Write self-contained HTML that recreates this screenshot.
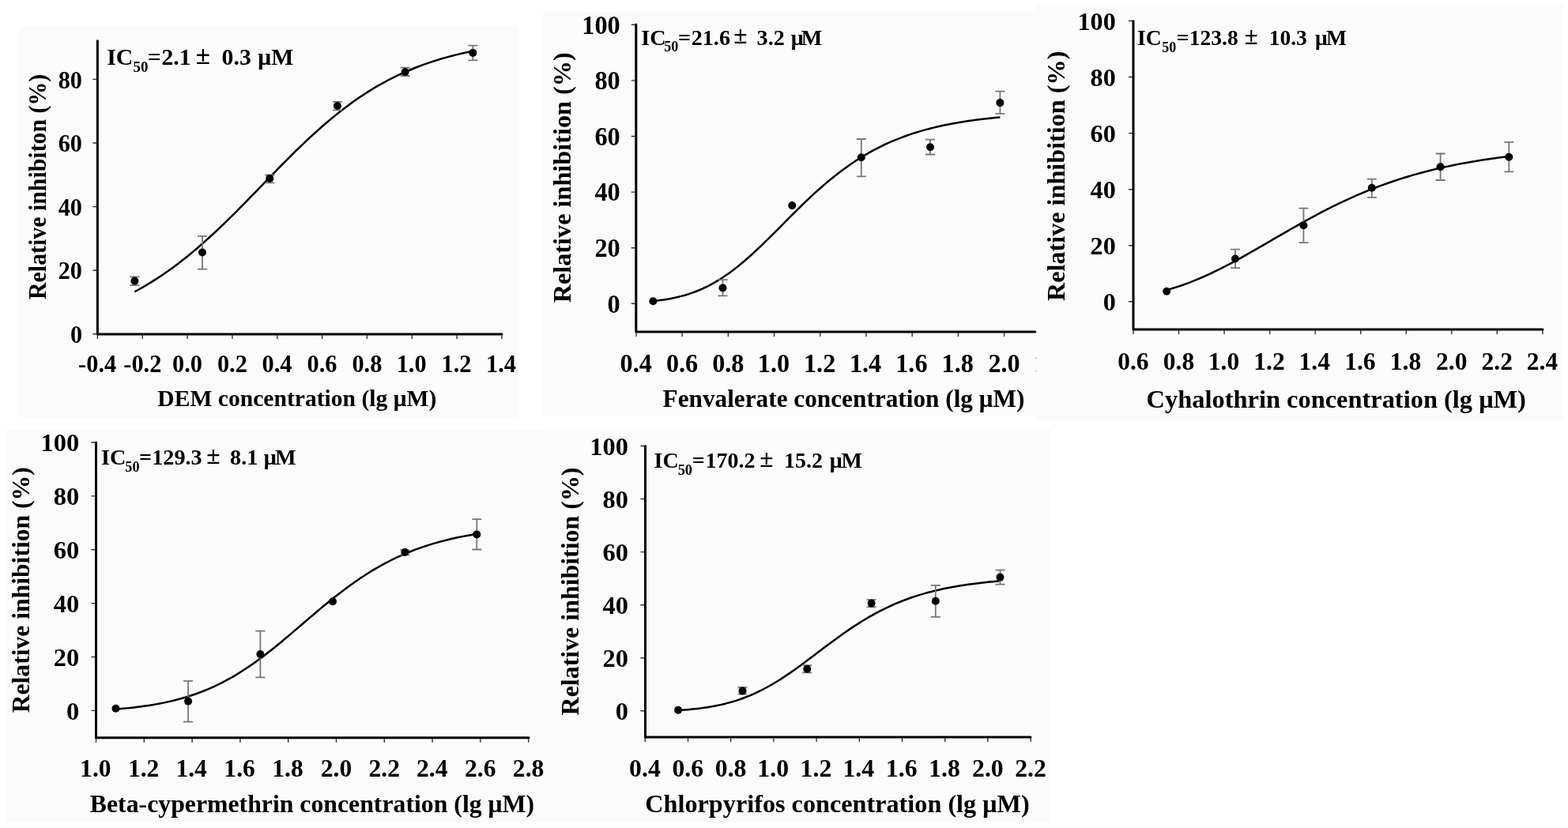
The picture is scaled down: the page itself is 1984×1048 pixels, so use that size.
<!DOCTYPE html>
<html><head><meta charset="utf-8"><style>
html,body{margin:0;padding:0;background:#fff;overflow:hidden;}
svg{display:block;}
text{font-family:"Liberation Serif","Times New Roman",serif;font-weight:bold;fill:#000;}
</style></head><body>
<svg width="1984" height="1048" viewBox="0 0 1984 1048">
<rect width="1984" height="1048" fill="#fff"/>
<rect x="24" y="34" width="632" height="494" fill="#fbfbfb"/>
<rect x="687" y="15" width="624" height="512" fill="#fbfbfb"/>
<rect x="1310" y="6" width="668" height="525" fill="#fbfbfb"/>
<rect x="8" y="545" width="692" height="495" fill="#fbfbfb"/>
<rect x="690" y="543" width="639" height="498" fill="#fbfbfb"/>
<path d="M117.4,422.8H123.4M117.4,342.2H123.4M117.4,261.6H123.4M117.4,181H123.4M117.4,100.4H123.4M123.4,423V429M180.24,423V429M237.08,423V429M293.92,423V429M350.76,423V429M407.6,423V429M464.44,423V429M521.28,423V429M578.12,423V429M634.96,423V429" stroke="#333" stroke-width="1.4" fill="none"/>
<path d="M123.4,51.8V423H635" stroke="#000" stroke-width="3" fill="none" stroke-linecap="round" stroke-linejoin="round"/>
<text transform="translate(88.88,434) scale(0.9700,1)" font-size="31.2">0</text>
<text transform="translate(73.75,353.4) scale(0.9700,1)" font-size="31.2">20</text>
<text transform="translate(73.75,272.8) scale(0.9700,1)" font-size="31.2">40</text>
<text transform="translate(73.75,192.2) scale(0.9700,1)" font-size="31.2">60</text>
<text transform="translate(73.75,111.6) scale(0.9700,1)" font-size="31.2">80</text>
<text transform="translate(99.1,471) scale(0.9800,1)" font-size="31">-0.4</text>
<text transform="translate(156.32,471) scale(0.9800,1)" font-size="31">-0.2</text>
<text transform="translate(218.09,471) scale(0.9800,1)" font-size="31">0.0</text>
<text transform="translate(274.93,471) scale(0.9800,1)" font-size="31">0.2</text>
<text transform="translate(331.47,471) scale(0.9800,1)" font-size="31">0.4</text>
<text transform="translate(388.46,471) scale(0.9800,1)" font-size="31">0.6</text>
<text transform="translate(445.38,471) scale(0.9800,1)" font-size="31">0.8</text>
<text transform="translate(501.68,471) scale(0.9800,1)" font-size="31">1.0</text>
<text transform="translate(558.52,471) scale(0.9800,1)" font-size="31">1.2</text>
<text transform="translate(615.06,471) scale(0.9800,1)" font-size="31">1.4</text>
<text transform="translate(199.36,514.3) scale(0.9705,1)" font-size="30.5">DEM concentration (lg μM)</text>
<text transform="translate(57.6,378.95) rotate(-90) scale(0.9635,1)" font-size="31">Relative inhibiton (%)</text>
<text transform="translate(135.26,82.1) scale(1.0000,1)" font-size="29.8"><tspan x="0" y="0">IC</tspan><tspan x="33.28" y="9.2" font-size="19">50</tspan><tspan x="51.45" y="0">=</tspan><tspan x="69.15" y="0">2.1 </tspan><tspan x="112.51" y="-1.2" font-size="33.38">± </tspan><tspan x="145.35" y="0">0.3 </tspan><tspan x="191.05" y="0">μ</tspan><tspan x="207.9" y="0">M</tspan></text>
<path d="M170.2,369.35 L174.52,367.01 L178.84,364.59 L183.15,362.1 L187.47,359.53 L191.79,356.89 L196.11,354.17 L200.43,351.37 L204.75,348.5 L209.06,345.54 L213.38,342.51 L217.7,339.4 L222.02,336.22 L226.34,332.95 L230.65,329.61 L234.97,326.19 L239.29,322.7 L243.61,319.14 L247.93,315.5 L252.25,311.79 L256.56,308.01 L260.88,304.17 L265.2,300.26 L269.52,296.29 L273.84,292.26 L278.15,288.17 L282.47,284.03 L286.79,279.84 L291.11,275.61 L295.43,271.33 L299.75,267.02 L304.06,262.67 L308.38,258.29 L312.7,253.89 L317.02,249.47 L321.34,245.03 L325.65,240.57 L329.97,236.12 L334.29,231.66 L338.61,227.2 L342.93,222.75 L347.25,218.32 L351.56,213.9 L355.88,209.5 L360.2,205.13 L364.52,200.79 L368.84,196.49 L373.15,192.23 L377.47,188.01 L381.79,183.84 L386.11,179.72 L390.43,175.66 L394.75,171.66 L399.06,167.71 L403.38,163.83 L407.7,160.02 L412.02,156.28 L416.34,152.61 L420.65,149.02 L424.97,145.49 L429.29,142.05 L433.61,138.69 L437.93,135.4 L442.25,132.19 L446.56,129.07 L450.88,126.02 L455.2,123.06 L459.52,120.17 L463.84,117.37 L468.15,114.65 L472.47,112.01 L476.79,109.45 L481.11,106.97 L485.43,104.56 L489.75,102.23 L494.06,99.98 L498.38,97.8 L502.7,95.7 L507.02,93.67 L511.34,91.7 L515.65,89.81 L519.97,87.98 L524.29,86.22 L528.61,84.53 L532.93,82.9 L537.25,81.32 L541.56,79.81 L545.88,78.35 L550.2,76.95 L554.52,75.61 L558.84,74.32 L563.15,73.08 L567.47,71.88 L571.79,70.74 L576.11,69.64 L580.43,68.59 L584.75,67.58 L589.06,66.61 L593.38,65.68 L597.7,64.79" stroke="#000" stroke-width="2.5" fill="none"/>
<path d="M170.4,350.4V361.1M164.4,350.4H176.4M164.4,361.1H176.4M256,298.9V340.7M250,298.9H262M250,340.7H262M341.3,221.5V231.4M335.3,221.5H347.3M335.3,231.4H347.3M426.9,128.9V139.3M420.9,128.9H432.9M420.9,139.3H432.9M512.7,85.6V96M506.7,85.6H518.7M506.7,96H518.7M598.3,57.6V76.3M592.3,57.6H604.3M592.3,76.3H604.3" stroke="#777" stroke-width="1.8" fill="none"/>
<circle cx="170.4" cy="355.6" r="5.0" fill="#000"/>
<circle cx="256" cy="319.5" r="5.0" fill="#000"/>
<circle cx="341.3" cy="225.9" r="5.0" fill="#000"/>
<circle cx="426.9" cy="134" r="5.0" fill="#000"/>
<circle cx="512.7" cy="91" r="5.0" fill="#000"/>
<circle cx="598.3" cy="66.9" r="5.0" fill="#000"/>
<path d="M798.8,384.3H804.8M798.8,313.7H804.8M798.8,243.1H804.8M798.8,172.5H804.8M798.8,101.9H804.8M798.8,31.3H804.8M805,420V426M863.2,420V426M921.4,420V426M979.6,420V426M1037.8,420V426M1096,420V426M1154.2,420V426M1212.4,420V426M1270.6,420V426" stroke="#333" stroke-width="1.4" fill="none"/>
<path d="M804.8,31V420H1309.8" stroke="#000" stroke-width="3" fill="none" stroke-linecap="round" stroke-linejoin="round"/>
<text transform="translate(768.62,395.5) scale(0.9800,1)" font-size="33">0</text>
<text transform="translate(752.45,324.9) scale(0.9800,1)" font-size="33">20</text>
<text transform="translate(752.45,254.3) scale(0.9800,1)" font-size="33">40</text>
<text transform="translate(752.45,183.7) scale(0.9800,1)" font-size="33">60</text>
<text transform="translate(752.45,113.1) scale(0.9800,1)" font-size="33">80</text>
<text transform="translate(736.28,42.5) scale(0.9800,1)" font-size="33">100</text>
<text transform="translate(784.53,471) scale(0.9400,1)" font-size="34.3">0.4</text>
<text transform="translate(842.89,471) scale(0.9400,1)" font-size="34.3">0.6</text>
<text transform="translate(901.17,471) scale(0.9400,1)" font-size="34.3">0.8</text>
<text transform="translate(958.8,471) scale(0.9400,1)" font-size="34.3">1.0</text>
<text transform="translate(1017,471) scale(0.9400,1)" font-size="34.3">1.2</text>
<text transform="translate(1074.88,471) scale(0.9400,1)" font-size="34.3">1.4</text>
<text transform="translate(1133.24,471) scale(0.9400,1)" font-size="34.3">1.6</text>
<text transform="translate(1191.52,471) scale(0.9400,1)" font-size="34.3">1.8</text>
<text transform="translate(1250.45,471) scale(0.9400,1)" font-size="34.3">2.0</text>
<text transform="translate(838.53,514.6) scale(0.9777,1)" font-size="32">Fenvalerate concentration (lg μM)</text>
<text transform="translate(722.1,383.28) rotate(-90) scale(0.9922,1)" font-size="32.5">Relative inhibition (%)</text>
<text transform="translate(811.31,56.6) scale(1.0000,1)" font-size="28.2"><tspan x="0" y="0">IC</tspan><tspan x="28.96" y="8.6" font-size="18.2">50</tspan><tspan x="46.68" y="0">=</tspan><tspan x="63.36" y="0">21.6 </tspan><tspan x="117.02" y="-1.2" font-size="31.58">± </tspan><tspan x="146.3" y="0">3.2 </tspan><tspan x="189.41" y="0">μ</tspan><tspan x="202.56" y="0">M</tspan></text>
<path d="M826.4,381.09 L830.83,380.6 L835.27,380.04 L839.7,379.41 L844.14,378.7 L848.57,377.9 L853.01,377.01 L857.44,376.01 L861.87,374.9 L866.31,373.68 L870.74,372.33 L875.18,370.85 L879.61,369.23 L884.05,367.47 L888.48,365.57 L892.92,363.5 L897.35,361.29 L901.78,358.91 L906.22,356.38 L910.65,353.68 L915.09,350.82 L919.52,347.81 L923.96,344.65 L928.39,341.33 L932.82,337.87 L937.26,334.27 L941.69,330.54 L946.13,326.69 L950.56,322.73 L955,318.67 L959.43,314.51 L963.86,310.28 L968.3,305.97 L972.73,301.61 L977.17,297.21 L981.6,292.77 L986.04,288.31 L990.47,283.85 L994.91,279.38 L999.34,274.93 L1003.77,270.5 L1008.21,266.11 L1012.64,261.76 L1017.08,257.46 L1021.51,253.22 L1025.95,249.05 L1030.38,244.95 L1034.81,240.93 L1039.25,236.99 L1043.68,233.15 L1048.12,229.4 L1052.55,225.75 L1056.99,222.19 L1061.42,218.74 L1065.85,215.39 L1070.29,212.15 L1074.72,209.01 L1079.16,205.97 L1083.59,203.04 L1088.03,200.22 L1092.46,197.49 L1096.89,194.87 L1101.33,192.35 L1105.76,189.93 L1110.2,187.61 L1114.63,185.38 L1119.07,183.24 L1123.5,181.19 L1127.94,179.23 L1132.37,177.36 L1136.8,175.56 L1141.24,173.85 L1145.67,172.21 L1150.11,170.65 L1154.54,169.16 L1158.98,167.74 L1163.41,166.39 L1167.84,165.1 L1172.28,163.87 L1176.71,162.7 L1181.15,161.59 L1185.58,160.53 L1190.02,159.52 L1194.45,158.57 L1198.88,157.66 L1203.32,156.79 L1207.75,155.97 L1212.19,155.19 L1216.62,154.45 L1221.06,153.75 L1225.49,153.08 L1229.93,152.45 L1234.36,151.85 L1238.79,151.28 L1243.23,150.74 L1247.66,150.23 L1252.1,149.74 L1256.53,149.28 L1260.97,148.85 L1265.4,148.43" stroke="#000" stroke-width="2.5" fill="none"/>
<path d="M914.5,354.1V374.3M908.5,354.1H920.5M908.5,374.3H920.5M1089.8,176V223.4M1083.8,176H1095.8M1083.8,223.4H1095.8M1177,176.7V195.5M1171,176.7H1183M1171,195.5H1183M1265.4,115.7V143.9M1259.4,115.7H1271.4M1259.4,143.9H1271.4" stroke="#777" stroke-width="1.8" fill="none"/>
<circle cx="826.4" cy="381.2" r="5.0" fill="#000"/>
<circle cx="914.5" cy="364.4" r="5.0" fill="#000"/>
<circle cx="1002.2" cy="260.1" r="5.0" fill="#000"/>
<circle cx="1089.8" cy="199.3" r="5.0" fill="#000"/>
<circle cx="1177" cy="186.2" r="5.0" fill="#000"/>
<circle cx="1265.4" cy="130.1" r="5.0" fill="#000"/>
<path d="M1428,381.8H1434M1428,310.74H1434M1428,239.68H1434M1428,168.62H1434M1428,97.56H1434M1428,26.5H1434M1434,417V423M1491.54,417V423M1549.08,417V423M1606.62,417V423M1664.16,417V423M1721.7,417V423M1779.24,417V423M1836.78,417V423M1894.32,417V423M1951.86,417V423" stroke="#333" stroke-width="1.4" fill="none"/>
<path d="M1434,26.7V417H1952" stroke="#000" stroke-width="3" fill="none" stroke-linecap="round" stroke-linejoin="round"/>
<text transform="translate(1395.69,392.8) scale(1.0000,1)" font-size="32.2">0</text>
<text transform="translate(1379.59,321.74) scale(1.0000,1)" font-size="32.2">20</text>
<text transform="translate(1379.59,250.68) scale(1.0000,1)" font-size="32.2">40</text>
<text transform="translate(1379.59,179.62) scale(1.0000,1)" font-size="32.2">60</text>
<text transform="translate(1379.59,108.56) scale(1.0000,1)" font-size="32.2">80</text>
<text transform="translate(1363.49,37.5) scale(1.0000,1)" font-size="32.2">100</text>
<text transform="translate(1414.14,467.8) scale(0.9700,1)" font-size="32.5">0.6</text>
<text transform="translate(1471.76,467.8) scale(0.9700,1)" font-size="32.5">0.8</text>
<text transform="translate(1528.75,467.8) scale(0.9700,1)" font-size="32.5">1.0</text>
<text transform="translate(1586.29,467.8) scale(0.9700,1)" font-size="32.5">1.2</text>
<text transform="translate(1643.51,467.8) scale(0.9700,1)" font-size="32.5">1.4</text>
<text transform="translate(1701.21,467.8) scale(0.9700,1)" font-size="32.5">1.6</text>
<text transform="translate(1758.83,467.8) scale(0.9700,1)" font-size="32.5">1.8</text>
<text transform="translate(1817.08,467.8) scale(0.9700,1)" font-size="32.5">2.0</text>
<text transform="translate(1874.62,467.8) scale(0.9700,1)" font-size="32.5">2.2</text>
<text transform="translate(1931.84,467.8) scale(0.9700,1)" font-size="32.5">2.4</text>
<text transform="translate(1450.58,515.5) scale(1.0137,1)" font-size="32">Cyhalothrin concentration (lg μM)</text>
<text transform="translate(1347.1,381.08) rotate(-90) scale(1.0001,1)" font-size="32.2">Relative inhibition (%)</text>
<text transform="translate(1438.94,56.8) scale(1.0000,1)" font-size="27.5"><tspan x="0" y="0">IC</tspan><tspan x="31.34" y="9.2" font-size="18">50</tspan><tspan x="49.69" y="0">=</tspan><tspan x="65.86" y="0">123.8 </tspan><tspan x="135.93" y="-1.2" font-size="30.8">± </tspan><tspan x="166.76" y="0">10.3 </tspan><tspan x="225.09" y="0">μ</tspan><tspan x="239.05" y="0">M</tspan></text>
<path d="M1476.2,367.17 L1480.57,365.9 L1484.95,364.56 L1489.32,363.16 L1493.7,361.69 L1498.07,360.15 L1502.45,358.55 L1506.82,356.88 L1511.2,355.14 L1515.57,353.35 L1519.95,351.49 L1524.32,349.56 L1528.7,347.58 L1533.07,345.55 L1537.45,343.46 L1541.82,341.31 L1546.2,339.12 L1550.57,336.88 L1554.95,334.6 L1559.32,332.28 L1563.69,329.92 L1568.07,327.53 L1572.44,325.1 L1576.82,322.65 L1581.19,320.17 L1585.57,317.68 L1589.94,315.16 L1594.32,312.63 L1598.69,310.1 L1603.07,307.55 L1607.44,305 L1611.82,302.45 L1616.19,299.9 L1620.57,297.36 L1624.94,294.82 L1629.32,292.3 L1633.69,289.78 L1638.07,287.29 L1642.44,284.81 L1646.82,282.35 L1651.19,279.92 L1655.56,277.51 L1659.94,275.13 L1664.31,272.78 L1668.69,270.45 L1673.06,268.16 L1677.44,265.9 L1681.81,263.68 L1686.19,261.49 L1690.56,259.33 L1694.94,257.22 L1699.31,255.14 L1703.69,253.1 L1708.06,251.1 L1712.44,249.14 L1716.81,247.22 L1721.19,245.34 L1725.56,243.5 L1729.94,241.7 L1734.31,239.94 L1738.68,238.22 L1743.06,236.54 L1747.43,234.9 L1751.81,233.3 L1756.18,231.75 L1760.56,230.23 L1764.93,228.75 L1769.31,227.3 L1773.68,225.9 L1778.06,224.54 L1782.43,223.21 L1786.81,221.91 L1791.18,220.66 L1795.56,219.44 L1799.93,218.25 L1804.31,217.1 L1808.68,215.98 L1813.06,214.89 L1817.43,213.84 L1821.81,212.81 L1826.18,211.82 L1830.55,210.86 L1834.93,209.92 L1839.3,209.02 L1843.68,208.14 L1848.05,207.29 L1852.43,206.47 L1856.8,205.67 L1861.18,204.9 L1865.55,204.15 L1869.93,203.43 L1874.3,202.73 L1878.68,202.05 L1883.05,201.4 L1887.43,200.77 L1891.8,200.15 L1896.18,199.56 L1900.55,198.99 L1904.93,198.43 L1909.3,197.9" stroke="#000" stroke-width="2.5" fill="none"/>
<path d="M1563,315.7V339.1M1557,315.7H1569M1557,339.1H1569M1649.4,263.6V307.1M1643.4,263.6H1655.4M1643.4,307.1H1655.4M1735.8,226.6V249.8M1729.8,226.6H1741.8M1729.8,249.8H1741.8M1822.6,194.5V228M1816.6,194.5H1828.6M1816.6,228H1828.6M1909.3,179.9V217.3M1903.3,179.9H1915.3M1903.3,217.3H1915.3" stroke="#777" stroke-width="1.8" fill="none"/>
<circle cx="1476.2" cy="368.8" r="5.0" fill="#000"/>
<circle cx="1563" cy="327.5" r="5.0" fill="#000"/>
<circle cx="1649.4" cy="285.3" r="5.0" fill="#000"/>
<circle cx="1735.8" cy="237.8" r="5.0" fill="#000"/>
<circle cx="1822.6" cy="211.2" r="5.0" fill="#000"/>
<circle cx="1909.3" cy="198.8" r="5.0" fill="#000"/>
<path d="M115.5,899.4H121.5M115.5,831.52H121.5M115.5,763.64H121.5M115.5,695.76H121.5M115.5,627.88H121.5M115.5,560H121.5M121.5,933.8V939.8M182.3,933.8V939.8M243.1,933.8V939.8M303.9,933.8V939.8M364.7,933.8V939.8M425.5,933.8V939.8M486.3,933.8V939.8M547.1,933.8V939.8M607.9,933.8V939.8M668.7,933.8V939.8" stroke="#333" stroke-width="1.4" fill="none"/>
<path d="M121.5,560V933.8H669" stroke="#000" stroke-width="3" fill="none" stroke-linecap="round" stroke-linejoin="round"/>
<text transform="translate(84.05,910.6) scale(1.0000,1)" font-size="32.5">0</text>
<text transform="translate(67.8,842.72) scale(1.0000,1)" font-size="32.5">20</text>
<text transform="translate(67.8,774.84) scale(1.0000,1)" font-size="32.5">40</text>
<text transform="translate(67.8,706.96) scale(1.0000,1)" font-size="32.5">60</text>
<text transform="translate(67.8,639.08) scale(1.0000,1)" font-size="32.5">80</text>
<text transform="translate(51.55,571.2) scale(1.0000,1)" font-size="32.5">100</text>
<text transform="translate(101.11,983.4) scale(1.0200,1)" font-size="31">1.0</text>
<text transform="translate(161.91,983.4) scale(1.0200,1)" font-size="31">1.2</text>
<text transform="translate(222.39,983.4) scale(1.0200,1)" font-size="31">1.4</text>
<text transform="translate(283.35,983.4) scale(1.0200,1)" font-size="31">1.6</text>
<text transform="translate(344.23,983.4) scale(1.0200,1)" font-size="31">1.8</text>
<text transform="translate(405.74,983.4) scale(1.0200,1)" font-size="31">2.0</text>
<text transform="translate(466.54,983.4) scale(1.0200,1)" font-size="31">2.2</text>
<text transform="translate(527.02,983.4) scale(1.0200,1)" font-size="31">2.4</text>
<text transform="translate(587.98,983.4) scale(1.0200,1)" font-size="31">2.6</text>
<text transform="translate(648.86,983.4) scale(1.0200,1)" font-size="31">2.8</text>
<text transform="translate(113.82,1028) scale(0.9933,1)" font-size="32">Beta-cypermethrin concentration (lg μM)</text>
<text transform="translate(37.1,902.37) rotate(-90) scale(0.9891,1)" font-size="32">Relative inhibition (%)</text>
<text transform="translate(127.91,588.2) scale(1.0000,1)" font-size="28.2"><tspan x="0" y="0">IC</tspan><tspan x="30.46" y="9" font-size="18.2">50</tspan><tspan x="48.08" y="0">=</tspan><tspan x="64.33" y="0">129.3 </tspan><tspan x="133.42" y="-1.2" font-size="31.58">± </tspan><tspan x="163.2" y="0">8.1 </tspan><tspan x="205.8" y="0">μ</tspan><tspan x="220.16" y="0">M</tspan></text>
<path d="M146.5,897.62 L151.11,897.24 L155.73,896.83 L160.34,896.38 L164.96,895.9 L169.57,895.39 L174.18,894.83 L178.8,894.23 L183.41,893.59 L188.03,892.9 L192.64,892.16 L197.26,891.37 L201.87,890.52 L206.48,889.62 L211.1,888.64 L215.71,887.61 L220.33,886.5 L224.94,885.32 L229.55,884.07 L234.17,882.73 L238.78,881.31 L243.4,879.81 L248.01,878.21 L252.63,876.53 L257.24,874.75 L261.85,872.87 L266.47,870.89 L271.08,868.8 L275.7,866.62 L280.31,864.32 L284.92,861.92 L289.54,859.41 L294.15,856.8 L298.77,854.07 L303.38,851.24 L307.99,848.31 L312.61,845.27 L317.22,842.13 L321.84,838.9 L326.45,835.57 L331.07,832.16 L335.68,828.66 L340.29,825.08 L344.91,821.43 L349.52,817.71 L354.14,813.94 L358.75,810.12 L363.36,806.25 L367.98,802.35 L372.59,798.42 L377.21,794.48 L381.82,790.52 L386.44,786.56 L391.05,782.61 L395.66,778.68 L400.28,774.76 L404.89,770.88 L409.51,767.04 L414.12,763.24 L418.73,759.5 L423.35,755.81 L427.96,752.19 L432.58,748.64 L437.19,745.16 L441.81,741.76 L446.42,738.44 L451.03,735.21 L455.65,732.06 L460.26,729.01 L464.88,726.04 L469.49,723.17 L474.1,720.4 L478.72,717.72 L483.33,715.13 L487.95,712.64 L492.56,710.24 L497.17,707.93 L501.79,705.71 L506.4,703.59 L511.02,701.55 L515.63,699.6 L520.25,697.73 L524.86,695.95 L529.47,694.24 L534.09,692.61 L538.7,691.06 L543.32,689.58 L547.93,688.17 L552.54,686.83 L557.16,685.55 L561.77,684.34 L566.39,683.19 L571,682.09 L575.62,681.05 L580.23,680.07 L584.84,679.13 L589.46,678.24 L594.07,677.4 L598.69,676.6 L603.3,675.85" stroke="#000" stroke-width="2.5" fill="none"/>
<path d="M238.1,861.8V913.6M232.1,861.8H244.1M232.1,913.6H244.1M329.4,798.7V857.4M323.4,798.7H335.4M323.4,857.4H335.4M512.3,696.1V702.4M506.3,696.1H518.3M506.3,702.4H518.3M603.3,657.2V695.5M597.3,657.2H609.3M597.3,695.5H609.3" stroke="#777" stroke-width="1.8" fill="none"/>
<circle cx="146.5" cy="896.8" r="5.0" fill="#000"/>
<circle cx="238.1" cy="887.6" r="5.0" fill="#000"/>
<circle cx="329.4" cy="828" r="5.0" fill="#000"/>
<circle cx="421" cy="761.3" r="5.0" fill="#000"/>
<circle cx="512.3" cy="699" r="5.0" fill="#000"/>
<circle cx="603.3" cy="676.4" r="5.0" fill="#000"/>
<path d="M810.5,899.8H816.5M810.5,832.74H816.5M810.5,765.68H816.5M810.5,698.62H816.5M810.5,631.56H816.5M810.5,564.5H816.5M816.3,933V939M870.5,933V939M924.7,933V939M978.9,933V939M1033.1,933V939M1087.3,933V939M1141.5,933V939M1195.7,933V939M1249.9,933V939M1304.1,933V939" stroke="#333" stroke-width="1.4" fill="none"/>
<path d="M816.5,564.5V933H1304" stroke="#000" stroke-width="3" fill="none" stroke-linecap="round" stroke-linejoin="round"/>
<text transform="translate(778.65,911) scale(1.0000,1)" font-size="32.5">0</text>
<text transform="translate(762.4,843.94) scale(1.0000,1)" font-size="32.5">20</text>
<text transform="translate(762.4,776.88) scale(1.0000,1)" font-size="32.5">40</text>
<text transform="translate(762.4,709.82) scale(1.0000,1)" font-size="32.5">60</text>
<text transform="translate(762.4,642.76) scale(1.0000,1)" font-size="32.5">80</text>
<text transform="translate(746.15,575.7) scale(1.0000,1)" font-size="32.5">100</text>
<text transform="translate(796.09,983) scale(1.0200,1)" font-size="31.2">0.4</text>
<text transform="translate(850.45,983) scale(1.0200,1)" font-size="31.2">0.6</text>
<text transform="translate(904.73,983) scale(1.0200,1)" font-size="31.2">0.8</text>
<text transform="translate(958.37,983) scale(1.0200,1)" font-size="31.2">1.0</text>
<text transform="translate(1012.57,983) scale(1.0200,1)" font-size="31.2">1.2</text>
<text transform="translate(1066.46,983) scale(1.0200,1)" font-size="31.2">1.4</text>
<text transform="translate(1120.81,983) scale(1.0200,1)" font-size="31.2">1.6</text>
<text transform="translate(1175.09,983) scale(1.0200,1)" font-size="31.2">1.8</text>
<text transform="translate(1230.01,983) scale(1.0200,1)" font-size="31.2">2.0</text>
<text transform="translate(1284.21,983) scale(1.0200,1)" font-size="31.2">2.2</text>
<text transform="translate(816.29,1028) scale(1.0073,1)" font-size="32">Chlorpyrifos concentration (lg μM)</text>
<text transform="translate(731.5,905.38) rotate(-90) scale(0.9978,1)" font-size="32">Relative inhibition (%)</text>
<text transform="translate(827.52,592.1) scale(1.0000,1)" font-size="28"><tspan x="0" y="0">IC</tspan><tspan x="30.14" y="9" font-size="18.4">50</tspan><tspan x="48.28" y="0">=</tspan><tspan x="65.04" y="0">170.2 </tspan><tspan x="133.73" y="-1.2" font-size="31.36">± </tspan><tspan x="164.54" y="0">15.2 </tspan><tspan x="222.2" y="0">μ</tspan><tspan x="236.86" y="0">M</tspan></text>
<path d="M858.1,899.1 L862.2,898.82 L866.3,898.51 L870.41,898.16 L874.51,897.78 L878.61,897.35 L882.71,896.89 L886.81,896.38 L890.92,895.81 L895.02,895.2 L899.12,894.52 L903.22,893.78 L907.32,892.98 L911.43,892.11 L915.53,891.17 L919.63,890.14 L923.73,889.04 L927.83,887.85 L931.94,886.58 L936.04,885.21 L940.14,883.75 L944.24,882.19 L948.34,880.54 L952.45,878.78 L956.55,876.93 L960.65,874.97 L964.75,872.92 L968.85,870.76 L972.96,868.51 L977.06,866.16 L981.16,863.72 L985.26,861.2 L989.36,858.59 L993.47,855.89 L997.57,853.13 L1001.67,850.3 L1005.77,847.41 L1009.87,844.46 L1013.98,841.47 L1018.08,838.43 L1022.18,835.37 L1026.28,832.28 L1030.38,829.18 L1034.49,826.07 L1038.59,822.96 L1042.69,819.86 L1046.79,816.77 L1050.89,813.7 L1055,810.67 L1059.1,807.67 L1063.2,804.71 L1067.3,801.79 L1071.41,798.93 L1075.51,796.13 L1079.61,793.39 L1083.71,790.71 L1087.81,788.09 L1091.92,785.55 L1096.02,783.08 L1100.12,780.68 L1104.22,778.36 L1108.32,776.11 L1112.43,773.94 L1116.53,771.84 L1120.63,769.82 L1124.73,767.88 L1128.83,766.01 L1132.94,764.21 L1137.04,762.49 L1141.14,760.84 L1145.24,759.26 L1149.34,757.75 L1153.45,756.3 L1157.55,754.92 L1161.65,753.6 L1165.75,752.35 L1169.85,751.15 L1173.96,750.01 L1178.06,748.92 L1182.16,747.89 L1186.26,746.91 L1190.36,745.98 L1194.47,745.09 L1198.57,744.25 L1202.67,743.45 L1206.77,742.7 L1210.87,741.98 L1214.98,741.3 L1219.08,740.65 L1223.18,740.04 L1227.28,739.47 L1231.38,738.92 L1235.49,738.4 L1239.59,737.91 L1243.69,737.45 L1247.79,737.01 L1251.89,736.6 L1256,736.21 L1260.1,735.84 L1264.2,735.49" stroke="#000" stroke-width="2.5" fill="none"/>
<path d="M939.5,869.8V878.7M933.5,869.8H945.5M933.5,878.7H945.5M1021.3,842.1V851.3M1015.3,842.1H1027.3M1015.3,851.3H1027.3M1102.6,759.2V768.3M1096.6,759.2H1108.6M1096.6,768.3H1108.6M1183.8,740.9V780.9M1177.8,740.9H1189.8M1177.8,780.9H1189.8M1265.5,721.6V739.6M1259.5,721.6H1271.5M1259.5,739.6H1271.5" stroke="#777" stroke-width="1.8" fill="none"/>
<circle cx="858.1" cy="898.7" r="5.0" fill="#000"/>
<circle cx="939.5" cy="874.4" r="5.0" fill="#000"/>
<circle cx="1021.3" cy="846.7" r="5.0" fill="#000"/>
<circle cx="1102.6" cy="763.6" r="5.0" fill="#000"/>
<circle cx="1183.8" cy="760.7" r="5.0" fill="#000"/>
<circle cx="1265.5" cy="730.6" r="5.0" fill="#000"/>
<circle cx="1310.6" cy="453.4" r="1.1" fill="#c4c4c4"/><circle cx="1310.6" cy="469.5" r="1.1" fill="#c4c4c4"/>
</svg>
</body></html>
